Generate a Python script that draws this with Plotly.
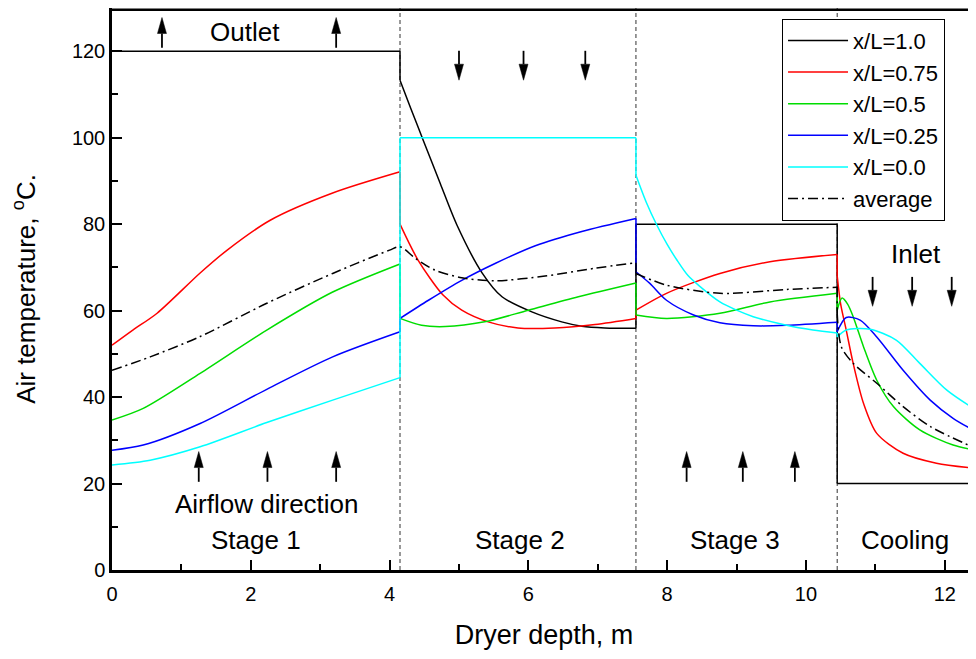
import plotly.graph_objects as go

# ---------------- data ----------------
x_black = [0, 4.15, 4.15, 4.3, 4.48, 4.73, 4.97, 5.33, 5.62, 6.05, 6.48, 6.77, 7.1, 7.55, 7.55, 10.45, 10.45, 12.6]
y_black = [120, 120, 113.3, 107.0, 99.6, 89.4, 79.8, 68.8, 63.2, 59.7, 57.4, 56.4, 56.0, 55.9, 80, 80, 20, 20]

x_red = [0, 0.3, 0.65, 1.27, 1.66, 2.28, 3.18, 4.15,
         4.15, 4.41, 4.77, 5.04, 5.42, 5.85, 6.38, 6.96, 7.55,
         7.55, 7.99, 8.76, 9.48, 10.45,
         10.45, 10.5, 10.58, 10.68, 10.83, 11.02, 11.4, 11.88, 12.45]
y_red = [52, 55.5, 59.4, 68.7, 74, 80.9, 87.2, 92.1,
         80, 71.7, 63.6, 60.1, 57.4, 56.0, 56.0, 56.8, 58.2,
         60.1, 64, 68.6, 71.3, 73,
         68, 61.5, 55.5, 47.8, 38.5, 31.6, 27, 24.7, 23.5]

x_green = [0, 0.45, 1.27, 2.23, 3.18, 4.15,
           4.15, 4.46, 4.8, 5.37, 6.0, 6.72, 7.55,
           7.55, 7.99, 8.76, 9.48, 10.45,
           10.45, 10.52, 10.6, 10.68, 10.83, 11.02, 11.26, 11.64, 12.12, 12.45]
y_green = [34.7, 37.4, 45.5, 55.5, 64.3, 70.8,
           58.2, 56.6, 56.3, 57.4, 60.1, 63.2, 66.4,
           59, 58.2, 59.4, 62, 64,
           60.1, 62.9, 61.5, 58.6, 51.6, 43.9, 37.8, 32.4, 28.9, 27.7]

x_blue = [0, 0.45, 1.27, 2.23, 3.18, 4.15,
          4.15, 4.56, 5.04, 5.52, 6.1, 6.77, 7.55,
          7.55, 7.75, 7.99, 8.38, 8.76, 9.24, 9.72, 10.45,
          10.45, 10.58, 10.78, 11.02, 11.4, 11.79, 12.12, 12.45]
y_blue = [27.7, 28.9, 33.9, 41.8, 49.3, 55.1,
          58.2, 62.4, 67, 70.9, 75.0, 78.3, 81.3,
          69, 66.3, 62.4, 59, 57.2, 56.5, 56.6, 57.3,
          55.1, 58.4, 57.8, 53.9, 46.2, 39.3, 35.1, 32]

x_cyan = [0, 0.55, 1.27, 2.23, 3.18, 4.15,
          4.15, 7.55,
          7.55, 7.7, 7.85, 8.0, 8.14, 8.3, 8.47, 8.76, 9.0, 9.24, 9.72, 10.1, 10.45,
          10.45, 10.58, 10.92, 11.3, 11.64, 12.03, 12.45]
y_cyan = [24.3, 25.4, 28.5, 34.1, 39.3, 44.5,
          100, 100,
          91.3, 85.0, 79.8, 75.3, 71.7, 68.1, 65.6, 62.0, 60.1, 58.6, 56.6, 55.5, 54.8,
          53.9, 55.5, 55.7, 53.2, 47.8, 41.6, 37]

x_avg = [0, 0.55, 1.27, 2.23, 3.18, 4.0, 4.15,
         4.37, 4.65, 5.04, 5.52, 6.24, 6.96, 7.55,
         7.55, 7.99, 8.76, 9.72, 10.45,
         10.45, 10.51, 10.68, 11.02, 11.4, 11.79, 12.45]
y_avg = [46.2, 49.3, 54, 61.7, 68.6, 74, 74.8,
         72.1, 69.4, 67.6, 66.9, 68, 69.8, 71.1,
         68.6, 65.9, 64, 64.9, 65.4,
         59.4, 51.6, 47.8, 43.2, 37.8, 33.2, 28.1]

stage_bounds = [4.15, 7.55, 10.45]

stage_labels = ["Stage 1", "Stage 2", "Stage 3", "Cooling"]
stage_label_x = [2.08, 5.88, 8.98, 11.43]

# arrows: (x, tip y, tail y)
arrow_x = [0.72, 3.23, 5.0, 5.93, 6.82, 1.25, 2.24, 3.23, 8.28, 9.09, 9.84, 10.96, 11.53, 12.1]
arrow_tip = [127.8, 127.8, 113.3, 113.3, 113.3, 27.4, 27.4, 27.4, 27.4, 27.4, 27.4, 61, 61, 61]
arrow_tail = [120.8, 120.8, 120.1, 120.1, 120.1, 20.4, 20.4, 20.4, 20.4, 20.4, 20.4, 67.8, 67.8, 67.8]

FONT = "Liberation Sans, Arial, sans-serif"
X_RANGE = [0, 12.45]
Y_RANGE = [0, 130]
# the page body adds an 8px offset, so the figure is 8px smaller than the window
W, H = 968, 651
ML, MR, MT, MB = 104, 0, 0, 89
px_x = (X_RANGE[1] - X_RANGE[0]) / (W - ML - MR)   # data units per pixel
px_y = (Y_RANGE[1] - Y_RANGE[0]) / (H - MT - MB)

fig = go.Figure()
series = [
    ("x/L=1.0", x_black, y_black, "black", "solid"),
    ("x/L=0.75", x_red, y_red, "#ff0000", "solid"),
    ("x/L=0.5", x_green, y_green, "#00dd00", "solid"),
    ("x/L=0.25", x_blue, y_blue, "#0000ff", "solid"),
    ("x/L=0.0", x_cyan, y_cyan, "#00ffff", "solid"),
    ("average", x_avg, y_avg, "black", "10px,4px,2px,4px"),
]


def split_pieces(xs, ys):
    pieces, cur = [], [(xs[0], ys[0])]
    for i in range(1, len(xs)):
        if xs[i] == xs[i - 1]:
            pieces.append(cur)
            cur = [(xs[i], ys[i])]
        else:
            cur.append((xs[i], ys[i]))
    pieces.append(cur)
    return pieces


for name, xs, ys, col, dash in series:
    pieces = split_pieces(xs, ys)
    first = True
    for k, p in enumerate(pieces):
        fig.add_trace(go.Scatter(x=[a for a, _ in p], y=[b for _, b in p], mode="lines",
                                 name=name, legendgroup=name, showlegend=first,
                                 line=dict(color=col, width=1.5, dash=dash,
                                           shape="spline", smoothing=0.8)))
        first = False
        if k + 1 < len(pieces):
            q = pieces[k + 1]
            fig.add_trace(go.Scatter(x=[p[-1][0], q[0][0]], y=[p[-1][1], q[0][1]], mode="lines",
                                     name=name, legendgroup=name, showlegend=False,
                                     line=dict(color=col, width=1.5, dash=dash)))

shapes = []
for b in stage_bounds:
    shapes.append(dict(type="line", xref="x", yref="y domain", x0=b, x1=b, y0=0, y1=1,
                       line=dict(color="#333333", width=1, dash="4px,3px"), layer="below"))
shapes.append(dict(type="line", xref="x domain", yref="paper", x0=0, x1=1, y0=0.997, y1=0.997,
                   line=dict(color="black", width=2.5)))

# arrows drawn as shaft + narrow filled head
HEAD_LEN, HEAD_HALF_W = 16, 4.5
for xx, tip, tail in zip(arrow_x, arrow_tip, arrow_tail):
    sgn = 1 if tip > tail else -1
    base = tip - sgn * HEAD_LEN * px_y
    shapes.append(dict(type="line", xref="x", yref="y", x0=xx, x1=xx, y0=tail, y1=base,
                       line=dict(color="black", width=1.8)))
    hw = HEAD_HALF_W * px_x
    path = f"M {xx - hw} {base} L {xx + hw} {base} L {xx} {tip} Z"
    shapes.append(dict(type="path", xref="x", yref="y", path=path,
                       fillcolor="black", line=dict(color="black", width=0.5)))

annotations = []


def label(txt, x, y):
    return dict(x=x, y=y, xref="x", yref="y", text=txt, showarrow=False,
                font=dict(family=FONT, size=26, color="black"))


annotations.append(label("Outlet", 1.92, 124.4))
annotations.append(label("Inlet", 11.59, 73.2))
annotations.append(label("Airflow direction", 2.24, 15.2))
for t, xx in zip(stage_labels, stage_label_x):
    annotations.append(label(t, xx, 7.0))

fig.update_layout(
    width=W, height=H,
    margin=dict(l=ML, r=MR, t=MT, b=MB),
    paper_bgcolor="white", plot_bgcolor="white",
    font=dict(family=FONT, color="black"),
    shapes=shapes, annotations=annotations,
    showlegend=True,
    legend=dict(x=0.7755, y=0.981, xanchor="left", yanchor="top",
                bordercolor="black", borderwidth=1, bgcolor="white",
                font=dict(family=FONT, size=22), tracegroupgap=0, itemwidth=60,
                entrywidth=90),
    xaxis=dict(range=X_RANGE, showgrid=False, zeroline=False, automargin=False,
               showline=True, linecolor="black", linewidth=2.5,
               ticks="inside", ticklen=10, tickwidth=2, tickcolor="black",
               dtick=2, tick0=0, tickfont=dict(size=20), ticklabelstandoff=4,
               minor=dict(ticks="inside", ticklen=6, tickwidth=2, dtick=1, tickcolor="black"),
               title=dict(text="Dryer depth, m", font=dict(size=27), standoff=22)),
    yaxis=dict(range=Y_RANGE, showgrid=False, zeroline=False, automargin=False,
               showline=True, linecolor="black", linewidth=2.5,
               ticks="inside", ticklen=10, tickwidth=2, tickcolor="black",
               dtick=20, tick0=0, tickfont=dict(size=20),
               minor=dict(ticks="inside", ticklen=6, tickwidth=2, dtick=10, tickcolor="black"),
               title=dict(text="Air temperature, <sup>o</sup>C.", font=dict(size=26), standoff=30)),
)

fig.write_html("out.html")
